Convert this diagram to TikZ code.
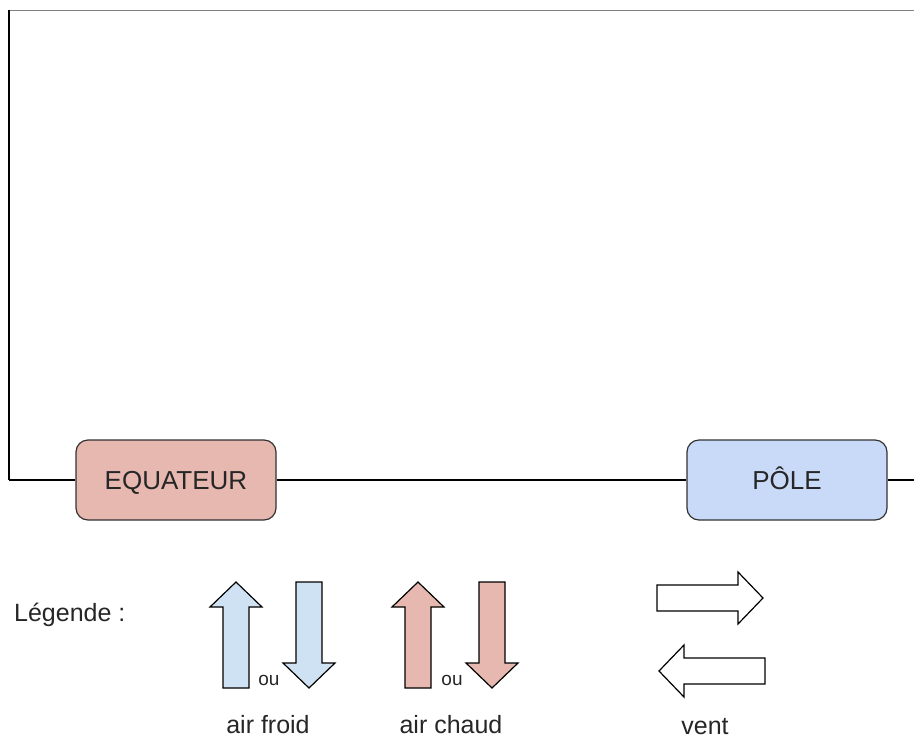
\documentclass[tikz,border=0pt]{standalone}
\usepackage{fontspec}
\setmainfont{Liberation Sans}
\definecolor{chaud}{HTML}{E6B8AF}
\definecolor{froid}{HTML}{CFE2F3}
\definecolor{bleupole}{HTML}{C9DAF8}

\begin{document}
\begin{tikzpicture}[x = 1pt, y = -1pt,
  zone/.style = {draw = black!80, line width = 1.2pt, rounded corners = 12pt,
    minimum width = 200pt, minimum height = 80pt, inner sep = 0pt,
    text height = 18.5pt, text depth = 0pt,
    text = black!85, font = \fontsize{26}{30}\selectfont},
  legtext/.style = {font = \fontsize{25}{30}\selectfont, inner sep = 0pt,
    text = black!85},
  outext/.style = {font = \fontsize{19}{22}\selectfont, inner sep = 0pt,
    text = black!85},
  fleche/.pic = {\draw[pic actions, line width = 1.2pt, line join = miter]
    (0, -13) -- (81, -13) -- (81, -26) -- (106, 0) -- (81, 26)
    -- (81, 13) -- (0, 13) -- cycle;}]
\useasboundingbox (0, 0) rectangle (914, 740);

% cadre
\coordinate (coin) at (9, 10);
\coordinate (gauche) at (9, 480);
\coordinate (droite) at (914, 480);
\coordinate (haut) at (914, 10);
\draw[line width = 1pt, color = gray] (coin) -- (haut);
\draw[line width = 1.2pt] (coin) -- (gauche);

% zones
\node (equateur) [zone, fill = chaud] at (176, 480) {EQUATEUR};
\node (pole) [zone, fill = bleupole] at (787, 480) {PÔLE};
\draw[line width = 1.2pt] (gauche) -- (equateur);
\draw[line width = 1.2pt] (equateur) -- (pole);
\draw[line width = 1.2pt] (pole) -- (droite);

% legende
\node (legende) [legtext, anchor = base west] at (14, 621) {Légende :};
\pic[fill = froid, rotate = 90] at (236, 688) {fleche};
\pic[fill = froid, rotate = -90] at (309, 582) {fleche};
\node (ou1) [outext, anchor = base] at (269, 685) {ou};
\node (froid) [legtext, anchor = base] at (268, 733) {air froid};
\pic[fill = chaud, rotate = 90] at (418, 688) {fleche};
\pic[fill = chaud, rotate = -90] at (492, 582) {fleche};
\node (ou2) [outext, anchor = base] at (452, 685) {ou};
\node (chaud) [legtext, anchor = base] at (451, 733) {air chaud};
\pic[fill = white] at (657, 598) {fleche};
\pic[fill = white, rotate = 180] at (765, 671) {fleche};
\node (vent) [legtext, anchor = base] at (705, 734) {vent};
\end{tikzpicture}
\end{document}
